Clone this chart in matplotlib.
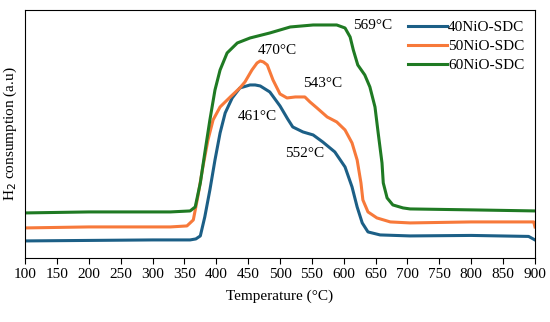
import numpy as np
import matplotlib.pyplot as plt

plt.rcParams['font.family'] = ['Liberation Serif', 'DejaVu Serif']

# temperatures (°C) and H2 signal (a.u.)
t_40 = [100, 200, 300, 359, 368, 375, 382, 390, 398, 406, 414, 425, 437, 453, 461,
        469, 484, 500, 512, 520, 536, 552, 567, 586, 602, 613, 621, 629, 638, 657,
        704, 800, 890, 900]
h_40 = [17, 17.5, 18, 18, 19, 22, 41, 68, 98, 125, 145, 160, 170, 173, 173,
        172, 166, 152, 139, 131, 126, 123, 116, 106, 91, 71, 51, 35, 26, 23,
        22, 22.5, 21.5, 18]

t_50 = [100, 200, 300, 328, 354, 364, 371, 379, 387, 395, 406, 422, 437, 445, 456,
        464, 469, 474, 480, 489, 500, 511, 524, 539, 547, 558, 574, 589, 602, 613,
        621, 627, 630, 638, 652, 673, 704, 800, 898, 900]
h_50 = [30, 31, 31, 31, 32, 38, 61, 91, 118, 138, 151, 161, 170, 176, 188,
        195, 197, 196, 193, 178, 164, 160, 161, 161, 156, 150, 141, 136, 128, 115,
        98, 75, 58, 46, 40, 36, 35, 36, 36, 31]

t_60 = [100, 200, 300, 328, 359, 367, 375, 382, 390, 398, 406, 417, 433, 453, 484,
        516, 552, 589, 602, 610, 615, 622, 633, 641, 649, 654, 660, 662, 668, 677,
        693, 704, 806, 900]
h_60 = [45, 46, 46, 46, 47, 51, 75, 105, 138, 168, 188, 205, 215, 220, 225,
        231, 233, 233, 230, 221, 208, 193, 183, 171, 151, 125, 95, 75, 60, 53,
        50, 49, 48, 47]

labels = ['40NiO-SDC', '50NiO-SDC', '60NiO-SDC']
colors = ['#1c5f86', '#f7793a', '#1f7a23']

peak_text = ['470°C', '461°C', '543°C', '552°C', '569°C']
peak_x = [495, 464, 567, 539, 646]
peak_y = [207, 141, 174, 104, 232]

fig = plt.figure(figsize=(5.5, 3.22), dpi=100)
ax = fig.add_axes([0.0455, 0.199, 0.9272, 0.770])

for t, h, lab, c in zip([t_40, t_50, t_60], [h_40, h_50, h_60], labels, colors):
    ax.plot(t, h, color=c, lw=2.2, label=lab, solid_joinstyle='round')

for s, x, y in zip(peak_text, peak_x, peak_y):
    ax.text(x, y, s, ha='center', va='center', fontsize=11)

ax.set_xlim(100, 900)
ax.set_ylim(0, 248)
ax.set_xticks(np.arange(100, 901, 50))
ax.set_yticks([])
ax.tick_params(axis='x', labelsize=11, direction='out', length=4)
ax.set_xlabel('Temperature (°C)', fontsize=11, labelpad=6)
ax.set_ylabel('H$_2$ consumption (a.u)', fontsize=11, labelpad=4)

ax.legend(loc='upper right', frameon=False, fontsize=11, handlelength=2.5,
          handletextpad=0.1, labelspacing=0.35, borderaxespad=0.3,
          bbox_to_anchor=(1.0, 1.0))

fig.savefig('out.png', dpi=100)
